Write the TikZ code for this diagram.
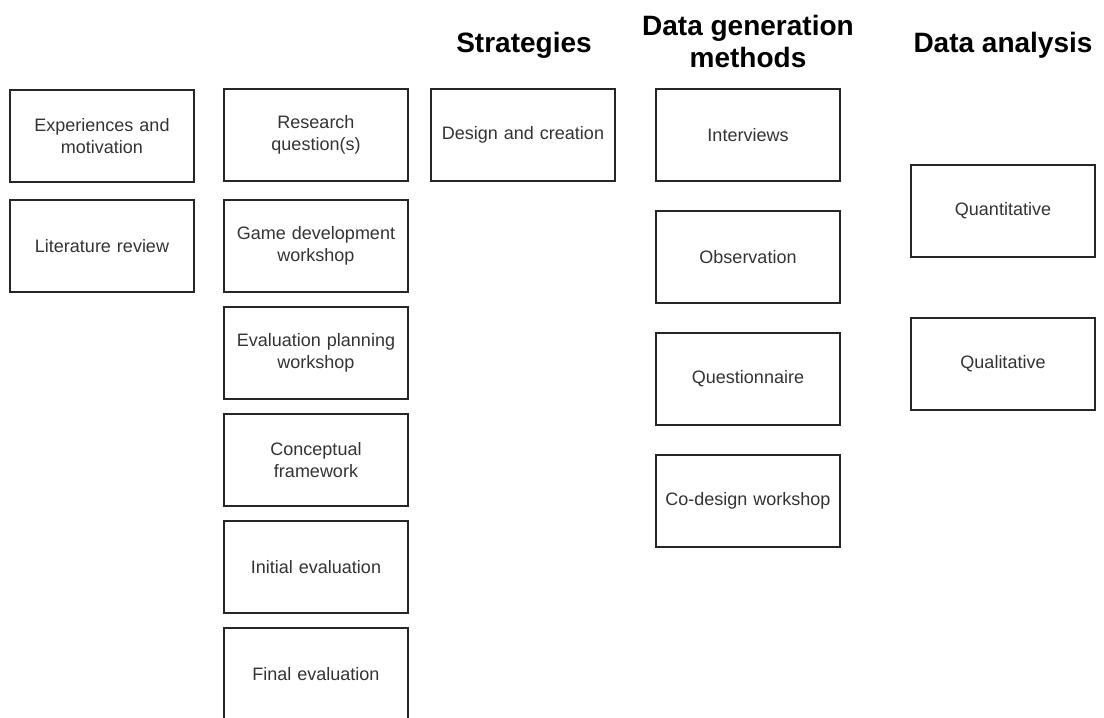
\documentclass[tikz,border=0pt]{standalone}
\usepackage{fontspec}
\setmainfont{Liberation Sans}
\usetikzlibrary{positioning}

\tikzset{
  box/.style={draw=black!85, line width=1.3pt, minimum width=184pt, minimum height=92pt,
    text width=178pt, align=center, text=black!80, inner sep=0pt,
    font=\fontsize{18}{21.5}\selectfont},
  heading/.style={align=center, anchor=base, font=\fontsize{28}{32}\selectfont\bfseries}
}

\begin{document}
\begin{tikzpicture}[x=1pt, y=-1pt]

\useasboundingbox (0,0) rectangle (1104,718);
\clip (0,0) rectangle (1104,718);

% starting points
\foreach \t/\y [count=\i] in {{Experiences and\\motivation}/136, {Literature review}/246}
  \node [box] (start-\i) at (102,\y) {\t};

% research process
\foreach \t/\y [count=\i] in {{Research\\question(s)}/135, {Game development\\workshop}/246,
    {Evaluation planning\\workshop}/353, {Conceptual\\framework}/460,
    {Initial evaluation}/567, {Final evaluation}/674}
  \node [box] (process-\i) at (316,\y) {\t};

% strategies
\node [box] (strategy-1) at (523,135) {Design and creation};

% data generation
\foreach \t [count=\i] in {Interviews, Observation, Questionnaire, Co-design workshop}
  \node [box] (generation-\i) at (748,13+\i*122) {\t};

% data analysis
\foreach \t [count=\i] in {Quantitative, Qualitative}
  \node [box] (analysis-\i) at (1003,58+\i*153) {\t};

% headings (base = last line)
\node [heading] (head-strategy) at (524,52) {Strategies};
\node [heading] (head-generation) at (748,67) {Data generation\\methods};
\node [heading] (head-analysis) at (1003,52) {Data analysis};

\end{tikzpicture}
\end{document}
